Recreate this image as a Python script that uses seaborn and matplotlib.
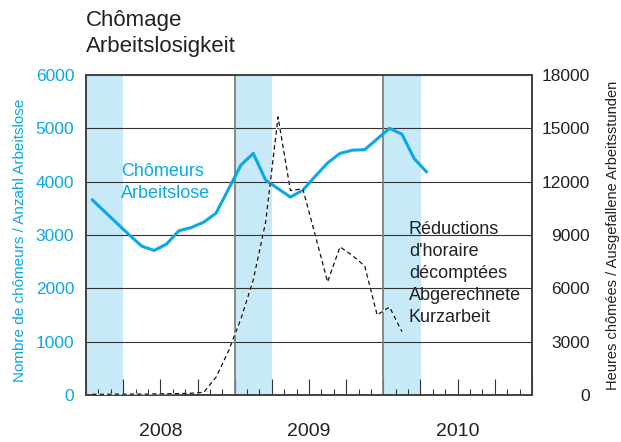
import numpy as np
import pandas as pd
import matplotlib
matplotlib.use("Agg")
import matplotlib.pyplot as plt
import matplotlib.transforms as mtransforms
from matplotlib.ticker import MultipleLocator
import seaborn as sns

# ---- data (monthly, Jan 2008 = month 0) ----
unemp_months = list(range(28))            # Jan 2008 .. Apr 2010
unemployed = [3660, 3440, 3220, 3000, 2790, 2710, 2830, 3080, 3140, 3240, 3410, 3860,
              4310, 4530, 4030, 3870, 3710, 3840, 4100, 4350, 4530, 4590, 4600, 4800,
              5000, 4890, 4430, 4180]
kurz_months = list(range(26))             # Jan 2008 .. Feb 2010
kurzarbeit = [40, 40, 50, 50, 50, 60, 70, 80, 100, 150, 1000, 2470,
              4270, 6470, 9730, 15640, 11500, 11600, 9000, 6360, 8330, 7850,
              7250, 4500, 4950, 3560]
years = ["2008", "2009", "2010"]
shaded_quarters = [(0, 3), (12, 15), (24, 27)]
left_ticks = [0, 1000, 2000, 3000, 4000, 5000, 6000]
right_ticks = [0, 3000, 6000, 9000, 12000, 15000, 18000]

BLUE = "#0AA8E6"
SHADE = "#C7E9F8"

sns.set_style("white")
plt.rcParams["font.family"] = ["Liberation Sans", "DejaVu Sans"]

df_u = pd.DataFrame({"x": np.array(unemp_months) + 0.5, "v": unemployed})
df_k = pd.DataFrame({"x": np.array(kurz_months) + 0.5, "v": kurzarbeit})

fig = plt.figure(figsize=(6.21, 4.42), dpi=100)
ax = fig.add_axes([86 / 621, 47 / 442, 446 / 621, 320 / 442])

for a, b in shaded_quarters:
    ax.axvspan(a, b, color=SHADE, lw=0, zorder=0)

ax.set_xlim(0, 36)
ax.set_ylim(0, 6000)
ax.set_yticks(left_ticks)
ax.set_axisbelow("line")
ax.yaxis.grid(True, color="#333333", lw=0.8)
ax.xaxis.grid(False)
for xv in (12, 24):
    ax.axvline(xv, color="#808080", lw=1.3, zorder=1.6)

ax.xaxis.set_major_locator(MultipleLocator(3))
ax.xaxis.set_minor_locator(MultipleLocator(1))
ax.tick_params(axis="x", which="major", direction="in", length=11.5, width=0.8,
               color="#333333", labelbottom=False, bottom=True)
ax.tick_params(axis="x", which="minor", direction="in", length=4.3, width=0.8,
               color="#333333", bottom=True)
ax.tick_params(axis="y", length=0, pad=8.5, labelsize=12.5, labelcolor=BLUE)

sns.lineplot(data=df_u, x="x", y="v", ax=ax, color=BLUE, lw=2.2, zorder=3)
ax.set_xlabel("")
ax.set_ylabel("")

ax2 = ax.twinx()
ax2.set_ylim(0, 18000)
ax2.set_yticks(right_ticks)
ax2.tick_params(axis="y", length=0, pad=41.8, labelsize=12.5, labelcolor="#222222")
for lab in ax2.get_yticklabels():
    lab.set_horizontalalignment("right")
sns.lineplot(data=df_k, x="x", y="v", ax=ax2, color="white", lw=0.9, zorder=3)
sns.lineplot(data=df_k, x="x", y="v", ax=ax2, color="#111111", lw=0.9,
             dashes=False, zorder=4)
ax2.lines[-1].set_dashes((3.5, 2.5))
ax2.set_xlabel("")
ax2.set_ylabel("")
ax2.grid(False)

for a_ in (ax, ax2):
    for s in a_.spines.values():
        s.set_color("#444444")
        s.set_linewidth(1.3)

trans = mtransforms.blended_transform_factory(ax.transData, ax.transAxes)
for i, y in enumerate(years):
    ax.text(12 * i + 6, -0.1156, y, transform=trans, ha="center", va="center",
            fontsize=14, color="#222222")

ax.text(0.0785, 0.616, "Chômeurs\nArbeitslose", transform=ax.transAxes,
        ha="left", va="baseline", fontsize=13, color=BLUE, zorder=5,
        linespacing=1.36)
ax2.text(0.724, 0.228, "Réductions\nd'horaire\ndécomptées\nAbgerechnete\nKurzarbeit",
         transform=ax.transAxes, ha="left", va="baseline", fontsize=13,
         color="#222222", zorder=5, linespacing=1.38)

fig.text(86 / 621, 0.977, "Chômage\nArbeitslosigkeit", ha="left", va="top",
         fontsize=16, color="#222222", linespacing=1.3)
fig.text(20 / 621, 1 - 240 / 442, "Nombre de chômeurs / Anzahl Arbeitslose",
         rotation=90, ha="center", va="center", fontsize=11, color=BLUE)
fig.text(613 / 621, 1 - 235 / 442, "Heures chômées / Ausgefallene Arbeitsstunden",
         rotation=90, ha="center", va="center", fontsize=10.5, color="#222222")

fig.savefig("out.png", dpi=100)
